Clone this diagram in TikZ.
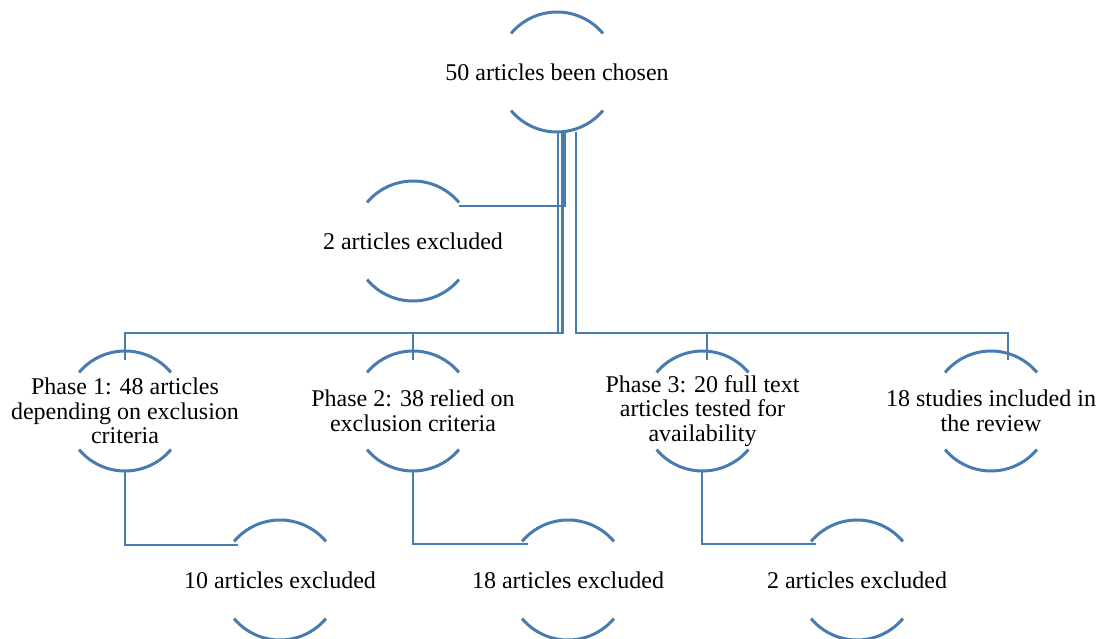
\documentclass[tikz,border=0pt]{standalone}
\usepackage{fontspec}
\setmainfont{Liberation Serif}
\usetikzlibrary{calc}
\definecolor{linkblue}{RGB}{72,124,176}
\tikzset{
  bub/.style={inner sep=0pt, align=center, text=black,
              font=\fontsize{24}{24.5}\selectfont},
  arcline/.style={draw=linkblue, line width=3pt},
  link/.style={draw=linkblue, line width=2.8pt},
}
% open circle: only the upper and lower arcs are drawn around a node
\newcommand\bubarcs[1]{%
  \draw[arcline] ($(#1.center)+(40:60pt)$) arc[start angle=40,end angle=140,radius=60pt];
  \draw[arcline] ($(#1.center)+(220:60pt)$) arc[start angle=220,end angle=320,radius=60pt];}
\begin{document}
\begin{tikzpicture}[x=1pt,y=1pt]
\useasboundingbox (0,0) rectangle (1099,638);

% nodes
\node[bub] (top) at (557,566) {50 articles been chosen};
\node[bub] (ex0) at (413,397) {2 articles excluded};
\node[bub] (p1)  at (125,227) {Phase 1: 48 articles\\depending on exclusion\\criteria};
\node[bub] (p2)  at (413,227) {Phase 2: 38 relied on\\exclusion criteria};
\node[bub] (p3)  at (702.5,227) {Phase 3: 20 full text\\articles tested for\\availability};
\node[bub] (p4)  at (991,227) {18 studies included in\\the review};
\node[bub] (e1)  at (280,58) {10 articles excluded};
\node[bub] (e2)  at (568,58) {18 articles excluded};
\node[bub] (e3)  at (857,58) {2 articles excluded};

\foreach \n in {top,ex0,p1,p2,p3,p4,e1,e2,e3} {\bubarcs{\n}}

% branch level
\coordinate (bus) at (0,305);

% connectors from the first node
\coordinate (o0) at ($(top.center)+(7.5,-60)$);
\coordinate (o1) at ($(top.center)+(1,-60)$);
\coordinate (o2) at ($(top.center)+(5.5,-60)$);
\coordinate (o3) at ($(top.center)+(19,-60)$);
\draw[link] (o0) |- ($(ex0.center)+(46,35)$);
\draw[link] (o1) -- (o1 |- bus) -| ($(p1.center)+(0,51)$);
\draw[link] (o2) -- (o2 |- bus) -| ($(p2.center)+(0,51)$);
\draw[link] (o3) -- (o3 |- bus) -| ($(p3.center)+(4.5,51)$);
\draw[link] (o3) -- (o3 |- bus) -| ($(p4.center)+(17,51)$);

% connectors from each phase to its exclusions
\draw[link] ($(p1.center)+(0,-60)$) |- ($(e1.center)+(-42,35)$);
\draw[link] ($(p2.center)+(0,-60)$) |- ($(e2.center)+(-40,36)$);
\draw[link] ($(p3.center)+(-0.5,-60)$) |- ($(e3.center)+(-41,36)$);
\end{tikzpicture}
\end{document}
